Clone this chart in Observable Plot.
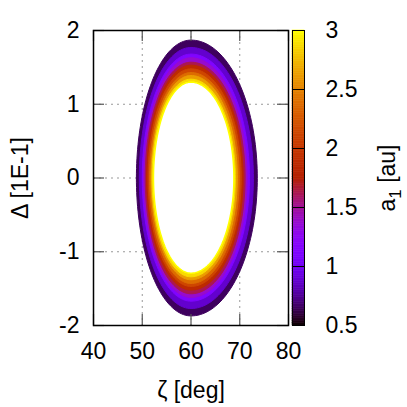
<!DOCTYPE html>
<html>
<head>
<meta charset="utf-8">
<script src="https://cdn.jsdelivr.net/npm/d3@7"></script>
<script src="https://cdn.jsdelivr.net/npm/@observablehq/plot@0.6"></script>
<style>
  body { margin: 0; background: white; }
  #wrap { position: relative; width: 407px; height: 407px; }
  #wrap svg { position: absolute; left: 0; top: 0; background: transparent !important; }
</style>
</head>
<body>
<div id="wrap"></div>
<script>
// ---- data (rings of constant a1) ----
const a1Levels   = [0.55, 0.75, 1.0, 1.25, 1.5, 1.75, 2.0, 2.25, 2.5, 2.75, 3.0];
const deltaTop   = [1.87, 1.77, 1.68, 1.63, 1.57, 1.53, 1.48, 1.43, 1.39, 1.34, 1.30];
const deltaBot   = [-1.87, -1.77, -1.67, -1.62, -1.57, -1.52, -1.47, -1.43, -1.38, -1.34, -1.29];
const zetaLeft   = [48.8, 49.4, 50.0, 50.3, 50.6, 50.9, 51.2, 51.5, 51.8, 52.0, 52.3];
const zetaRight  = [73.6, 72.8, 72.0, 71.5, 71.1, 70.7, 70.3, 69.9, 69.5, 69.1, 68.8];
const zetaApex   = 60;

const xTicks  = [40, 50, 60, 70, 80];
const yTicks  = [-2, -1, 0, 1, 2];
const cbTicks = [0.5, 1, 1.5, 2, 2.5, 3];
const cbDomain = [0.5, 3];

// gnuplot default palette (rgbformulae 7,5,15)
function gp(t) {
  t = Math.max(0, Math.min(1, t));
  const r = Math.sqrt(t), g = t * t * t, b = Math.max(0, Math.sin(2 * Math.PI * t));
  return d3.rgb(r * 255, g * 255, b * 255).formatHex();
}
const a1Color = v => gp((v - cbDomain[0]) / (cbDomain[1] - cbDomain[0]));

// build ring outlines
const angles = d3.range(0, 360, 2).map(d => d * Math.PI / 180);
const rings = [];
a1Levels.forEach((a, i) => {
  const next = i < a1Levels.length - 1 ? a1Levels[i + 1] : a;
  const col = a1Color((a + next) / 2);
  angles.forEach(th => {
    const c = Math.cos(th), s = Math.sin(th);
    const hx = c >= 0 ? zetaRight[i] - zetaApex : zetaApex - zetaLeft[i];
    const hy = s >= 0 ? deltaTop[i] : -deltaBot[i];
    rings.push({ring: i, a1: a, col, x: zetaApex + hx * c, y: hy * s});
  });
});
const innermost = rings.filter(d => d.ring === a1Levels.length - 1);

const W = 407, H = 407, mL = 93, mR = 119, mT = 30, mB = 82;
const font = "'Liberation Sans', Arial, Helvetica, sans-serif";
const FS = 23;

const main = Plot.plot({
  width: W, height: H,
  marginLeft: mL, marginRight: mR, marginTop: mT, marginBottom: mB,
  x: {domain: [40, 80], axis: null},
  y: {domain: [-2, 2], axis: null},
  style: {fontFamily: font, fontSize: FS + "px", background: "transparent", color: "black"},
  marks: [
    Plot.ruleX([50, 60, 70], {stroke: "#999", strokeDasharray: "2,4", strokeWidth: 1}),
    Plot.ruleY([-1, 0, 1], {stroke: "#999", strokeDasharray: "2,4", strokeWidth: 1}),
    Plot.line(rings, {x: "x", y: "y", z: "ring", fill: "col", stroke: "col", strokeWidth: 1, curve: "linear-closed"}),
    Plot.line(innermost, {x: "x", y: "y", fill: "white", stroke: a1Color(3), strokeWidth: 1.5, curve: "linear-closed"}),
    // inward ticks on all four sides
    Plot.ruleX(xTicks, {x: d => d, insetTop: 284, stroke: "#555", strokeWidth: 1.2}),
    Plot.ruleX(xTicks, {x: d => d, insetBottom: 284, stroke: "#555", strokeWidth: 1.2}),
    Plot.ruleY(yTicks, {y: d => d, insetRight: 184, stroke: "#555", strokeWidth: 1.2}),
    Plot.ruleY(yTicks, {y: d => d, insetLeft: 184, stroke: "#555", strokeWidth: 1.2}),
    Plot.frame({stroke: "black", strokeWidth: 1.5}),
    // tick labels
    Plot.text(xTicks, {x: d => d, y: -2, text: d => String(d), dy: 26, lineAnchor: "middle", fontSize: FS}),
    Plot.text(yTicks, {x: 40, y: d => d, text: d => String(d), dx: -14, textAnchor: "end", lineAnchor: "middle", fontSize: FS}),
    // axis titles
    Plot.text(["ζ [deg]"], {frameAnchor: "bottom", text: d => d, dy: 65, lineAnchor: "middle", textAnchor: "middle", fontSize: FS}),
    Plot.text(["Δ [1E-1]"], {frameAnchor: "left", text: d => d, dx: -73, rotate: -90, lineAnchor: "middle", textAnchor: "middle", fontSize: FS})
  ]
});

// colour bar
const N = 125;
const slices = d3.range(0, N).map(i => ({
  y1: cbDomain[0] + i * (cbDomain[1] - cbDomain[0]) / N,
  y2: cbDomain[0] + (i + 1) * (cbDomain[1] - cbDomain[0]) / N
}));
const cbL = 292, cbR = 304;
const bar = Plot.plot({
  width: W, height: H,
  marginLeft: cbL, marginRight: W - cbR, marginTop: mT, marginBottom: mB,
  x: {domain: [0, 1], axis: null},
  y: {domain: cbDomain, axis: null},
  style: {fontFamily: font, fontSize: FS + "px", background: "transparent", color: "black"},
  marks: [
    Plot.rect(slices, {x1: 0, x2: 1, y1: "y1", y2: "y2", fill: d => a1Color((d.y1 + d.y2) / 2), stroke: d => a1Color((d.y1 + d.y2) / 2), strokeWidth: 0.6, inset: 0}),
    Plot.ruleY(cbTicks, {y: d => d, stroke: "black", strokeWidth: 1}),
    Plot.frame({stroke: "black", strokeWidth: 1}),
    Plot.text(cbTicks, {x: 1, y: d => d, text: d => String(d), dx: 21, textAnchor: "start", lineAnchor: "middle", fontSize: FS}),
    Plot.text(["a1 [au]"], {frameAnchor: "right", text: d => d, dx: 83, rotate: -90, lineAnchor: "middle", textAnchor: "middle", fontSize: FS})
  ]
});

// turn the "1" of "a1" into a subscript
d3.select(bar).selectAll("text").filter(function() { return this.textContent === "a1 [au]"; })
  .each(function() {
    const t = d3.select(this);
    t.text(null);
    t.append("tspan").text("a");
    t.append("tspan").attr("dy", 6).attr("font-size", 17).text("1");
    t.append("tspan").attr("dy", -6).text(" [au]");
  });

const wrap = document.getElementById("wrap");
wrap.appendChild(main);
wrap.appendChild(bar);
</script>
</body>
</html>
